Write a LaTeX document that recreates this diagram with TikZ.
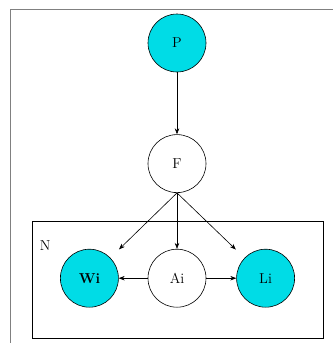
\documentclass[tikz,border=0pt]{standalone}
\usepackage{tikz}
\usetikzlibrary{arrows.meta,positioning}
\definecolor{observed}{HTML}{00DCE6}
\definecolor{frameGray}{gray}{0.5}

\begin{document}
\begin{tikzpicture}[
  var/.style={draw, circle, minimum size=58pt, inner sep=0pt, font=\Large, line width=0.6pt},
  arr/.style={-{Stealth[length=6pt, width=4.5pt]}, line width=0.6pt}
]
  \useasboundingbox (0pt,0pt) rectangle (333pt,-343pt);
  \draw[frameGray, line width=0.8pt] (10pt,-343pt) -- (10pt,-9pt) -- (333pt,-9pt);

  \node[var, fill=observed] (p) at (177pt,-43pt) {P};
  \node[var, below=62pt of p] (f) {F};
  \node[var, below=56pt of f] (ai) {Ai};
  \node[var, fill=observed, left=29pt of ai] (wi) {\textbf{Wi}};
  \node[var, fill=observed, right=30pt of ai] (li) {Li};

  \node[draw, line width=0.6pt, minimum width=291pt, minimum height=117pt] (plate) at (177.5pt,-279.5pt) {};
  \node[below right=19pt and 7pt of plate.north west, inner sep=1pt, font=\Large] (n) {N};

  \draw[arr] (p) -- (f);
  \draw[arr, shorten >=12pt] (f.south) -- (wi);
  \draw[arr] (f) -- (ai);
  \draw[arr, shorten >=12pt] (f.south) -- (li);
  \draw[arr] (ai) -- (wi);
  \draw[arr] (ai) -- (li);
\end{tikzpicture}
\end{document}
